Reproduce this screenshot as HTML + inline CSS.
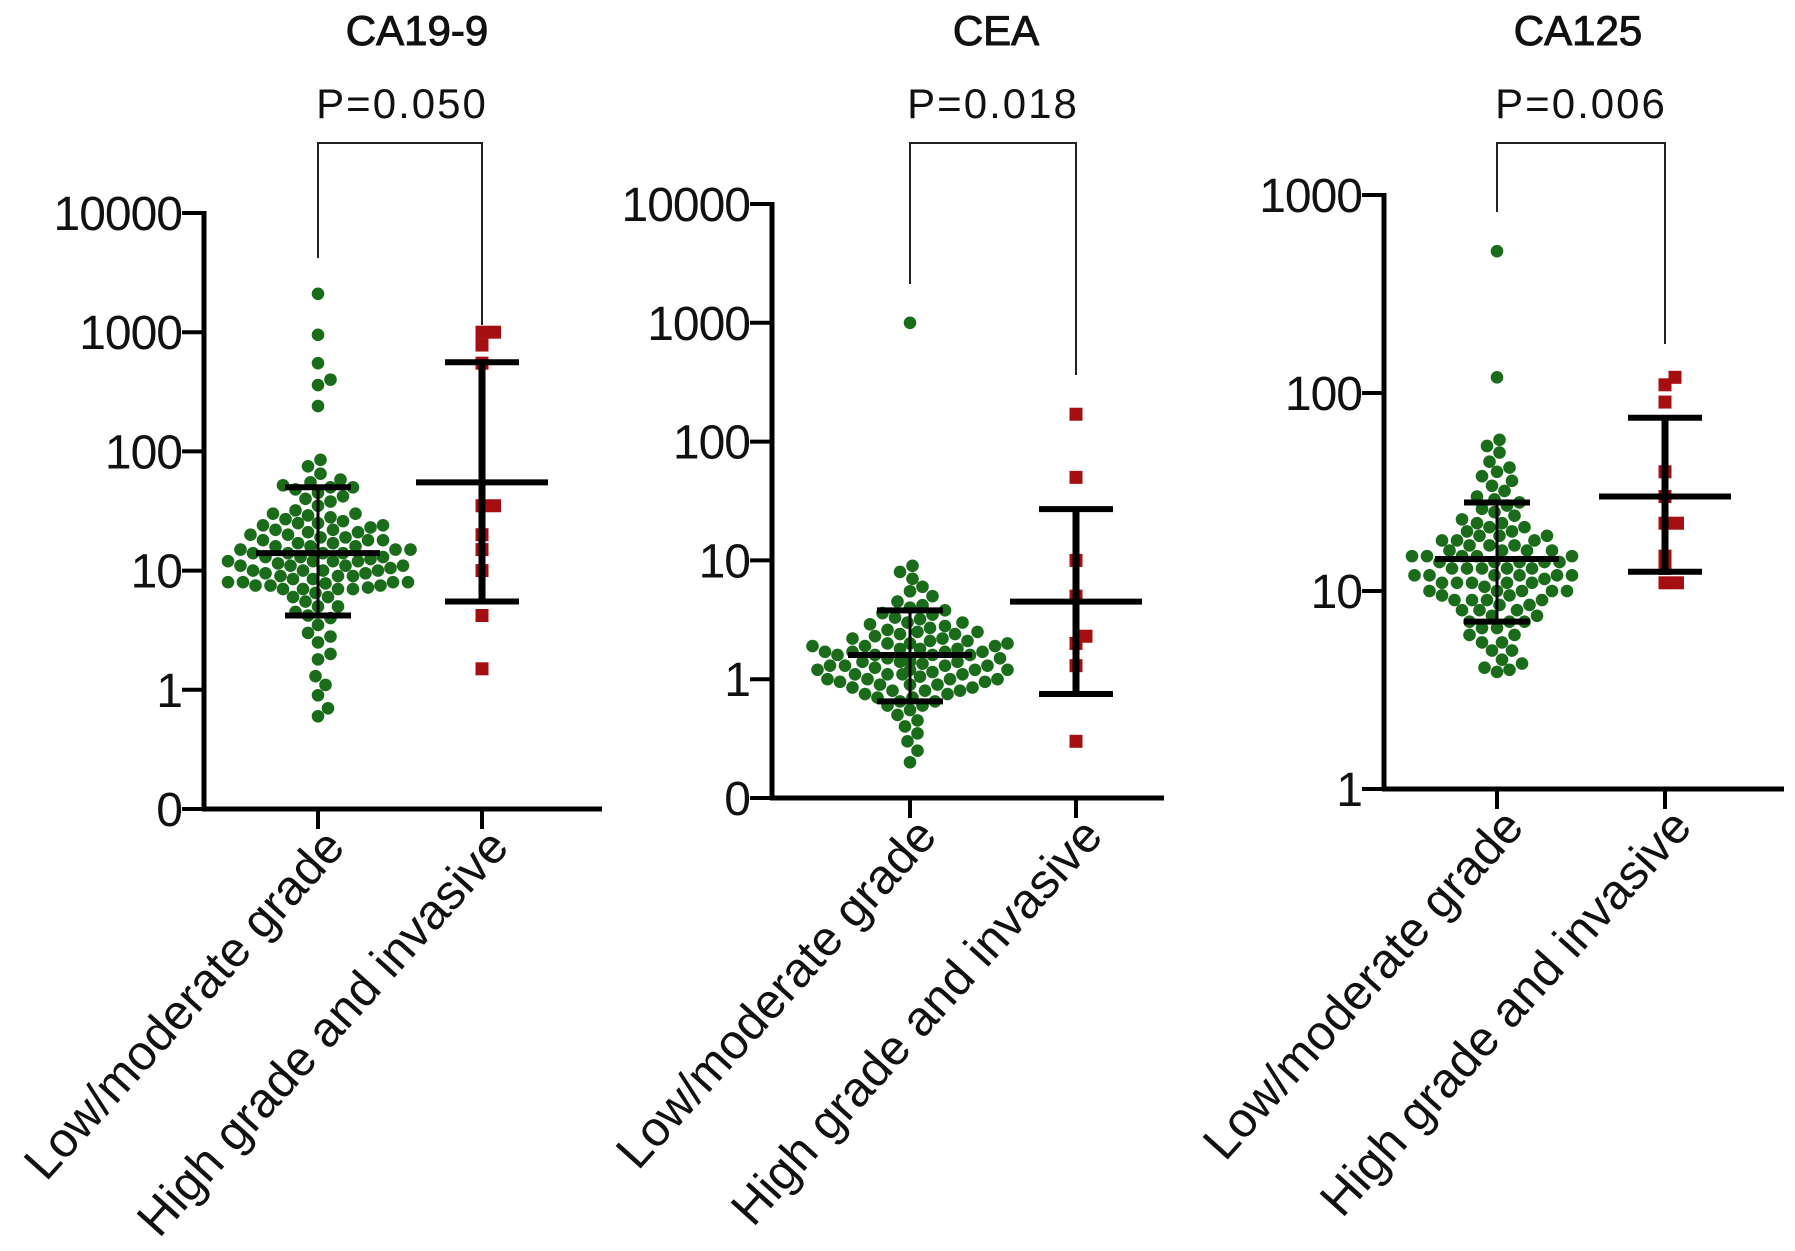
<!DOCTYPE html>
<html><head><meta charset="utf-8"><style>
html,body{margin:0;padding:0;background:#fff}
svg{display:block;font-family:"Liberation Sans",Arial,sans-serif}
</style></head><body>
<svg id="fig" width="1795" height="1251" viewBox="0 0 1795 1251"></svg>
<script>
const categories=["Low/moderate grade","High grade and invasive"];
const titles=["CA19-9","CEA","CA125"];
const pLabels=["P=0.050","P=0.018","P=0.006"];
const tickLabels1=["0","1","10","100","1000","10000"];
const tickLabels2=["0","1","10","100","1000","10000"];
const tickLabels3=["1","10","100","1000"];
const green1=[2100,950,550,400,360,240,85,75,65,58,55,52,50,50,48,45,42,40,38,35,32,30,30,29,28,26,25,25,24,23,22,22,21,20,20,19,19,18,18,17,17,16,16,15,15,15,14,14,14,13,13,13,12,12,12,12,11,11,11,11,10,10,10,10,9.5,9,9,9,8.5,8,8,8,8,7.5,7.5,7.5,7,7,7,7,6.5,6,6,5.5,5,5,4.5,4.2,4,3.5,3,2.8,2.5,2,1.8,1.3,1.1,0.9,0.7,0.6,27,24,21,18,16,14,12.5,11.5,10.5,9.5,8.5,7.8,7.2];
const red1=[1000,1000,780,550,35,35,20,15,10,4.2,1.5];
const green2=[1000,9,8,7,6,5.5,5,4.5,4.2,4,3.8,3.6,3.5,3.3,3.2,3,3,2.9,2.8,2.7,2.6,2.5,2.5,2.4,2.3,2.2,2.2,2.1,2,2,2,1.9,1.9,1.8,1.8,1.8,1.7,1.7,1.7,1.6,1.6,1.6,1.6,1.5,1.5,1.5,1.5,1.4,1.4,1.4,1.4,1.3,1.3,1.3,1.3,1.2,1.2,1.2,1.2,1.1,1.1,1.1,1.1,1,1,1,1,0.95,0.95,0.9,0.9,0.9,0.85,0.85,0.8,0.8,0.8,0.75,0.75,0.7,0.7,0.65,0.65,0.6,0.6,0.55,0.5,0.45,0.4,0.35,0.3,0.25,0.2,2.4,2.1,1.9,1.7,1.5,1.35,1.25,1.15,1.05];
const red2=[170,50,10,5,2.3,2,1.3,0.3];
const green3=[520,120,58,54,50,45,42,40,38,36,34,32,30,29,28,27,26,25,24,23,22,22,21,20,20,19,19,18,18,18,17,17,16,16,16,15,15,15,15,14,14,14,14,13,13,13,13,12,12,12,12,12,11.5,11,11,11,11,10.5,10,10,10,10,9.5,9.5,9,9,9,8.5,8.5,8,8,8,7.5,7.5,7,7,7,6.5,6.5,6,6,5.5,5.5,5,5,4.5,4.3,4.1,4,3.9,21,19,17,16,15,14,13,12,11,10,9];
const red3=[120,110,90,40,30,22,22,15,13,11,11];
const mean1=[14,55],sdLo1=[4.2,5.5],sdHi1=[50,560];
const mean2=[1.6,4.5],sdLo2=[0.65,0.75],sdHi2=[3.8,27];
const mean3=[14.5,30],sdLo3=[7,12.5],sdHi3=[28,75];

const NS="http://www.w3.org/2000/svg";
const svg=document.getElementById('fig');
function mk(tag,attrs,parent){const e=document.createElementNS(NS,tag);for(const k in attrs)e.setAttribute(k,attrs[k]);(parent||svg).appendChild(e);return e;}

const panels=[
 {ax:204,axEnd:602,gx:[318,482],minV:0.1,yMin:809,decade:119.2,ticks:tickLabels1,tickVals:[0.1,1,10,100,1000,10000],g:green1,r:red1,mean:mean1,lo:sdLo1,hi:sdHi1,tx:417,px:402,brT:143,brL:258,brR:325},
 {ax:772,axEnd:1164,gx:[910,1076],minV:0.1,yMin:798,decade:118.8,ticks:tickLabels2,tickVals:[0.1,1,10,100,1000,10000],g:green2,r:red2,mean:mean2,lo:sdLo2,hi:sdHi2,tx:996,px:993,brT:143,brL:284,brR:375},
 {ax:1384,axEnd:1784,gx:[1497,1665],minV:1,yMin:789,decade:198,ticks:tickLabels3,tickVals:[1,10,100,1000],g:green3,r:red3,mean:mean3,lo:sdLo3,hi:sdHi3,tx:1578,px:1581,brT:143,brL:212,brR:344}
];

function swarm(vals,yf,cx,rad){
 const placed=[];const out=[];
 const sorted=vals.map((v,i)=>({v,i})).sort((a,b)=>a.v-b.v);
 for(const s of sorted){const y=yf(s.v);let best=0;
  for(let k=0;k<80;k++){const off=(k%2?1:-1)*Math.ceil(k/2)*2.5;
   if(placed.every(p=>Math.hypot(p.x-(cx+off),p.y-y)>=rad*2)){best=off;break;}}
  placed.push({x:cx+best,y});out.push({v:s.v,x:cx+best,y});}
 return out;
}

panels.forEach((P,pi)=>{
 const g=mk('g',{});
 
 
 const yf=v=>P.yMin-Math.log10(Math.max(v,P.minV)/P.minV)*P.decade;
 const yTop=yf(P.tickVals[P.tickVals.length-1]);
 const t=mk('text',{x:P.tx,y:45,'text-anchor':'middle','font-size':42,fill:'#111',stroke:'#111','stroke-width':1},g);t.textContent=titles[pi];
 
 const pt=mk('text',{x:P.px,y:118,'text-anchor':'middle','font-size':42,'letter-spacing':'2',fill:'#111'},g);pt.textContent=pLabels[pi];
 
 const br=mk('path',{d:`M${P.gx[0]} ${P.brL}V${P.brT}H${P.gx[1]}V${P.brR}`,fill:'none',stroke:'#222','stroke-width':2},g);
 
 const yaxis=mk('line',{x1:P.ax,y1:yTop-2,x2:P.ax,y2:P.yMin+2,stroke:'#000','stroke-width':5},g);
 
 const xaxis=mk('line',{x1:P.ax-2,y1:P.yMin,x2:P.axEnd,y2:P.yMin,stroke:'#000','stroke-width':5},g);
 
 P.tickVals.forEach((v,i)=>{const y=yf(v);
  const tl=mk('line',{x1:P.ax-22,y1:y,x2:P.ax,y2:y,stroke:'#000','stroke-width':4},g);
  
  const tx=mk('text',{x:P.ax-22,y:y+17,'text-anchor':'end','font-size':48,'letter-spacing':'-1',fill:'#111'},g);tx.textContent=P.ticks[i];
  });
 P.gx.forEach((x,i)=>{
  const tl=mk('line',{x1:x,y1:P.yMin,x2:x,y2:P.yMin+20,stroke:'#000','stroke-width':4},g);
  
  const tx=mk('text',{transform:`translate(${x+16},${P.yMin+28}) rotate(-48)`,'text-anchor':'end','font-size':49,fill:'#111',dy:'0.35em'},g);tx.textContent=categories[i];
  });
 swarm(P.g,yf,P.gx[0],6.3).forEach(d=>{const c=mk('circle',{cx:d.x,cy:d.y,r:6.3,fill:'#1a6b1a'},g);
  });
 swarm(P.r,yf,P.gx[1],6).forEach(d=>{const c=mk('rect',{x:d.x-6.5,y:d.y-6.5,width:13,height:13,fill:'#a50f12'},g);
  });
 [0,1].forEach(i=>{const x=P.gx[i];const mw=i?66:62,cw=i?37:33;
  const v=mk('line',{x1:x,y1:yf(P.lo[i]),x2:x,y2:yf(P.hi[i]),stroke:'#000','stroke-width':i?7:3},g);
  
  const m=mk('line',{x1:x-mw,y1:yf(P.mean[i]),x2:x+mw,y2:yf(P.mean[i]),stroke:'#000','stroke-width':6},g);
  
  [P.lo[i],P.hi[i]].forEach(s=>{const c=mk('line',{x1:x-cw,y1:yf(s),x2:x+cw,y2:yf(s),stroke:'#000','stroke-width':6},g);
   });});
});
</script>
</body></html>
